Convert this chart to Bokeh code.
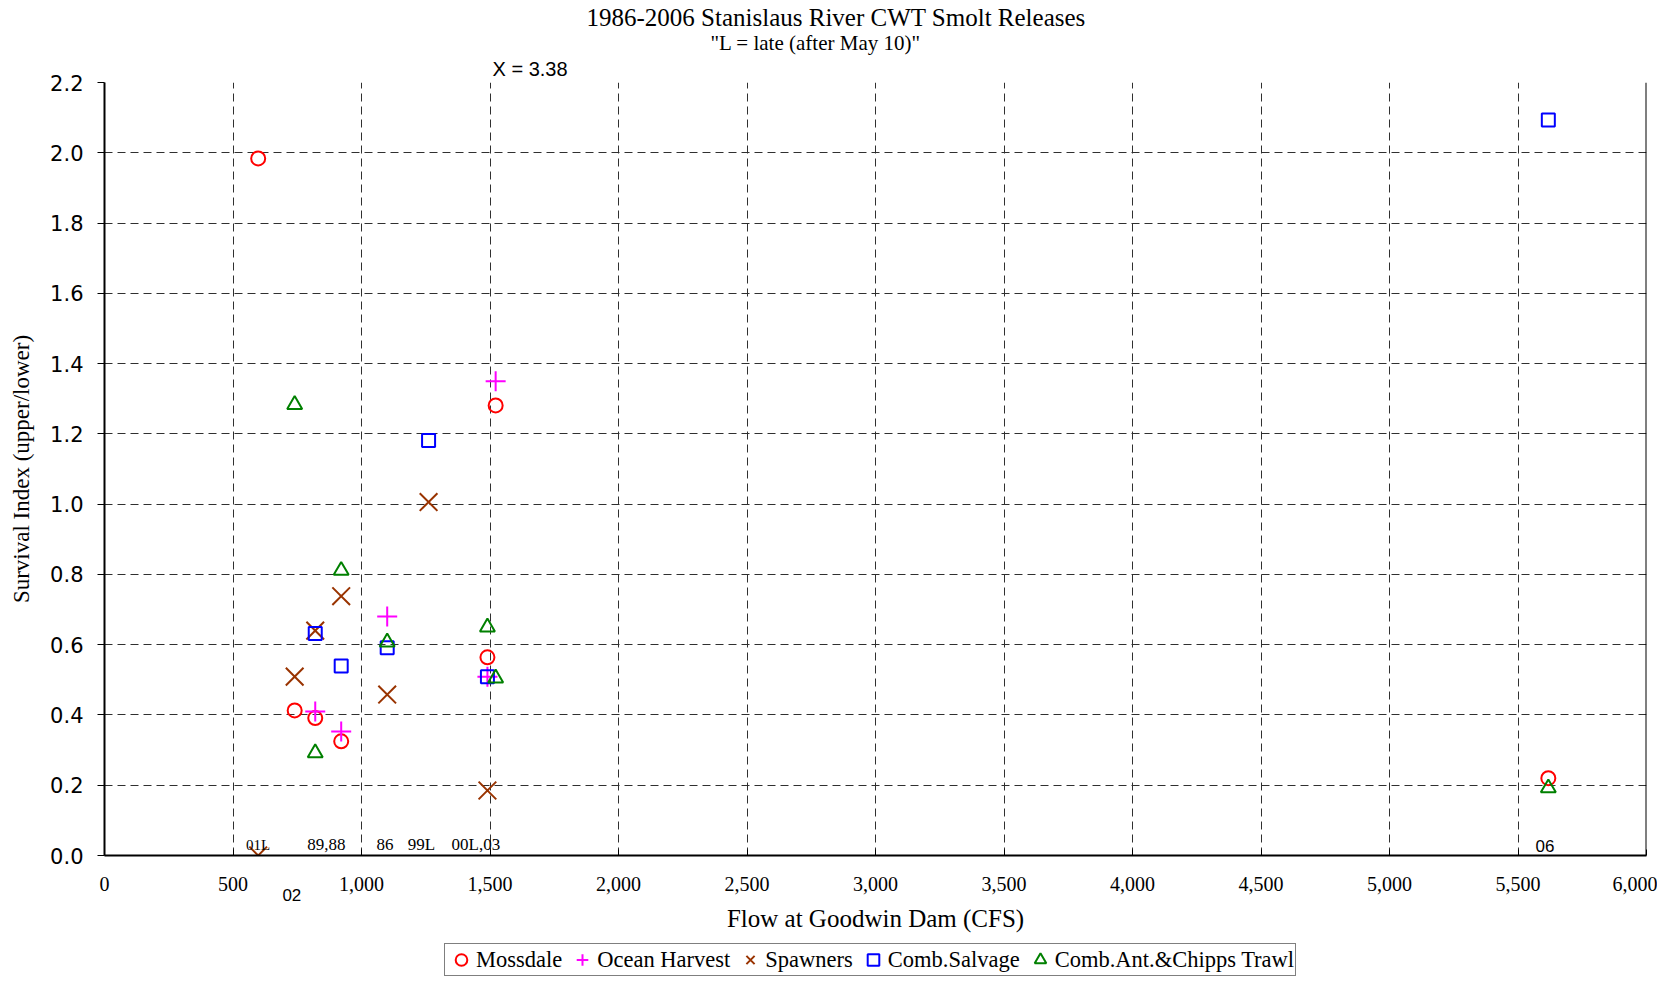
from bokeh.plotting import figure
from bokeh.layouts import column
from bokeh.models import (Range1d, Label, Legend, LegendItem, Span, FixedTicker, Title,
                          LinearAxis, NumeralTickFormatter, SingleIntervalTicker)
from bokeh.embed import file_html
from bokeh.resources import INLINE

# ---------------- data ----------------
moss_x = [598, 740, 820, 921, 1490, 1522, 5618]
moss_y = [1.984, 0.413, 0.391, 0.325, 0.564, 1.281, 0.220]

ocean_x = [820, 921, 1100, 1490, 1522]
ocean_y = [0.410, 0.353, 0.680, 0.509, 1.350]

spawn_x = [598, 740, 820, 921, 1100, 1261, 1490]
spawn_y = [0.0, 0.509, 0.640, 0.738, 0.458, 1.006, 0.185]

salv_x = [820, 921, 1100, 1261, 1490, 5618]
salv_y = [0.632, 0.539, 0.591, 1.181, 0.509, 2.093]

trawl_x = [740, 820, 921, 1100, 1490, 1522, 5618]
trawl_y = [1.283, 0.292, 0.811, 0.607, 0.650, 0.505, 0.192]

series_names = ["Mossdale", "Ocean Harvest", "Spawners", "Comb.Salvage",
                "Comb.Ant.&Chipps Trawl"]

# year labels (Excel data labels)
serif_lab_text = ["01L", "89,88", "86", "99L", "00L,03"]
serif_lab_x = [598, 863, 1091, 1233, 1445]
serif_lab_y = [0.031, 0.031, 0.031, 0.031, 0.031]
serif_lab_size = ["15px", "17px", "17px", "17px", "17px"]

sans_lab_text = ["06"]
sans_lab_x = [5605]
sans_lab_y = [0.028]

below_lab_text = "02"
below_lab_x = 729

x_ticks_interval = 500
y_ticks = [0.0, 0.2, 0.4, 0.6, 0.8, 1.0, 1.2, 1.4, 1.6, 1.8, 2.0, 2.2]

title_text = "1986-2006 Stanislaus River CWT Smolt Releases"
subtitle_text = '"L = late (after May 10)"'
xnote_text = "X = 3.38"

SERIF = "Liberation Serif"
SANS = "Liberation Sans"

STYLES = [
    dict(marker="circle", size=14, fill_color=None, line_color="#FF0000", line_width=2),
    dict(marker="cross", size=20, line_color="#FF00FF", line_width=2),
    dict(marker="x", size=25, line_color="#993300", line_width=2),
    dict(marker="square", size=13, fill_color=None, line_color="#0000FF", line_width=2),
    dict(marker="triangle", size=15, fill_color=None, line_color="#008000", line_width=2),
]

p = figure(width=1657, height=943, x_range=Range1d(0, 6000), y_range=Range1d(0, 2.2),
           output_backend="svg", toolbar_location=None, title=None,
           min_border_left=104, min_border_right=11, min_border_top=82, min_border_bottom=88)
p.outline_line_color = None
p.background_fill_color = "white"
p.border_fill_color = "white"

# axes
p.xaxis.ticker = SingleIntervalTicker(interval=x_ticks_interval, num_minor_ticks=0)
p.yaxis.ticker = FixedTicker(ticks=y_ticks)
p.xaxis.formatter = NumeralTickFormatter(format="0,0")
p.yaxis.formatter = NumeralTickFormatter(format="0.0")
for ax in (p.xaxis, p.yaxis):
    ax.axis_line_color = "black"
    ax.axis_line_width = 2
    ax.major_tick_line_color = "black"
    ax.major_tick_line_width = 1
    ax.minor_tick_line_color = None
    ax.major_label_text_color = "black"
    ax.axis_label_text_color = "black"
    ax.axis_label_text_font_style = "normal"
    ax.axis_label_text_font = SERIF

p.xaxis.major_tick_in = 6
p.xaxis.major_tick_out = 0
p.xaxis.major_label_text_font = SERIF
p.xaxis.major_label_text_font_size = "20px"
p.xaxis.major_label_standoff = 21

p.yaxis.major_tick_in = 0
p.yaxis.major_tick_out = 7
p.yaxis.major_label_text_font = "DejaVu Sans"
p.yaxis.major_label_text_font_size = "21px"
p.yaxis.major_label_standoff = 14
p.yaxis.axis_label = "Survival Index (upper/lower)"
p.yaxis.axis_label_text_font_size = "23px"
p.yaxis.axis_label_standoff = 13

# secondary bottom axis carrying the "02" label and the x axis title
ax2 = LinearAxis(ticker=FixedTicker(ticks=[below_lab_x]),
                 major_label_overrides={below_lab_x: below_lab_text},
                 axis_line_color=None, major_tick_line_color=None, minor_tick_line_color=None,
                 major_tick_in=0, major_tick_out=0, major_label_standoff=-5,
                 major_label_text_font=SANS, major_label_text_font_size="17px",
                 major_label_text_color="black",
                 axis_label="Flow at Goodwin Dam (CFS)", axis_label_text_font=SERIF,
                 axis_label_text_font_size="25px", axis_label_text_font_style="normal",
                 axis_label_text_color="black", axis_label_standoff=1)
p.add_layout(ax2, "below")

for g in (p.xgrid, p.ygrid):
    g.grid_line_color = "#303030"
    g.grid_line_width = 1
    g.grid_line_dash = "8 5"

p.add_layout(Span(location=6000, dimension="height", line_color="black", line_width=2))

# series
series = [(moss_x, moss_y), (ocean_x, ocean_y), (spawn_x, spawn_y),
          (salv_x, salv_y), (trawl_x, trawl_y)]
for (xs, ys), st in zip(series, STYLES):
    p.scatter(xs, ys, **st)

# data labels
for t, x, y, s in zip(serif_lab_text, serif_lab_x, serif_lab_y, serif_lab_size):
    p.add_layout(Label(x=x, y=y, text=t, text_font=SERIF, text_font_size=s,
                       text_align="center", text_baseline="middle", text_color="black"))
for t, x, y in zip(sans_lab_text, sans_lab_x, sans_lab_y):
    p.add_layout(Label(x=x, y=y, text=t, text_font=SANS, text_font_size="17px",
                       text_align="center", text_baseline="middle", text_color="black"))

# titles (first added = closest to the frame)
p.add_layout(Title(text=xnote_text, align="left", offset=388, text_font=SANS,
                   text_font_size="20px", text_font_style="normal", standoff=6,
                   text_color="black"), "above")
try:
    sub = Title(text=subtitle_text, align="left", offset=606, text_font=SERIF,
                text_font_size="21px", text_font_style="normal", standoff=-4,
                text_color="black")
except Exception:
    sub = Title(text=subtitle_text, align="left", offset=606, text_font=SERIF,
                text_font_size="21px", text_font_style="normal", standoff=0,
                text_color="black")
p.add_layout(sub, "above")
p.add_layout(Title(text=title_text, align="left", offset=482, text_font=SERIF,
                   text_font_size="25px", text_font_style="normal", standoff=0,
                   text_color="black"), "above")

# legend strip: a second figure below whose renderers use the same series
# (its ranges keep the points themselves out of view, only the legend shows)
p2 = figure(width=1657, height=34, output_backend="svg", toolbar_location=None,
            title=None, x_axis_type=None, y_axis_type=None,
            x_range=Range1d(0, 1), y_range=Range1d(10, 11), min_border=0)
p2.outline_line_color = None
p2.grid.visible = False
items = []
for name, (xs, ys), st in zip(series_names, series, STYLES):
    r = p2.scatter(xs, ys, **st)
    items.append(LegendItem(label=name, renderers=[r]))
legend = Legend(items=items, orientation="horizontal", location=(340, 1), margin=0,
                border_line_color="black", border_line_width=1,
                label_text_font=SERIF, label_text_font_size="22.5px",
                label_text_color="black",
                glyph_width=30, glyph_height=29, label_standoff=0, spacing=5, padding=1,
                background_fill_color="white", background_fill_alpha=1.0)
p2.add_layout(legend)

open("out.html", "w").write(file_html(column(p, p2, spacing=0), INLINE))
